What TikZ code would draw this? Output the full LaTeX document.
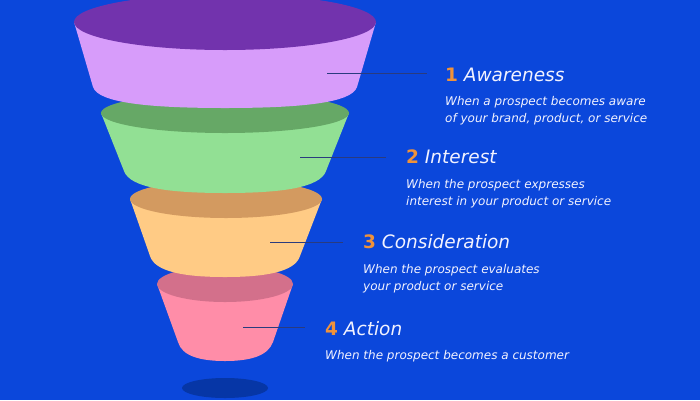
\documentclass[tikz,border=0pt]{standalone}
\usepackage{fontspec}
\setmainfont{DejaVu Sans}
\definecolor{bg}{HTML}{0B47DB}
\definecolor{shadow}{HTML}{0636A6}
\definecolor{capA}{HTML}{7233AD}
\definecolor{bandA}{HTML}{D79CFA}
\definecolor{capB}{HTML}{66A866}
\definecolor{bandB}{HTML}{92E094}
\definecolor{capC}{HTML}{D39A60}
\definecolor{bandC}{HTML}{FFCB85}
\definecolor{capD}{HTML}{D3708B}
\definecolor{bandD}{HTML}{FF8DA8}
\definecolor{lead}{HTML}{2A3B7E}
\definecolor{num}{HTML}{F0923A}
\definecolor{txt}{HTML}{F2F2FF}
\tikzset{
    TT/.style ={anchor=base west, inner sep=0pt, text=txt, font=\fontsize{18.5}{22}\selectfont\itshape},
    DD/.style ={anchor=base west, inner sep=0pt, text=txt, align=left, font=\fontsize{12}{17}\selectfont\itshape},
    LL/.style ={draw=lead, line width=1pt}
}
\newcommand{\stagenum}[1]{{\upshape\bfseries\color{num}#1}}
\begin{document}
\begin{tikzpicture}[x=1pt,y=-1pt]
    \fill[bg] (0,0) rectangle (700,400);
    \useasboundingbox (0,0) rectangle (700,400);
    % shadow
    \fill[shadow] (225,388) ellipse (43 and 10);
    % stage 4
    \fill[bandD] (157,284) -- (178,342) .. controls (182,356) and (200,361) .. (225,361)
        .. controls (250,361) and (268,356) .. (273,342) -- (293,284) -- cycle;
    \fill[capD] (225,284) ellipse (68 and 18);
    % stage 3
    \fill[bandC] (130,199) -- (150,256) .. controls (155,272) and (185,277) .. (225,277)
        .. controls (265,277) and (295,272) .. (300,256) -- (322,199) -- cycle;
    \fill[capC] (226,199) ellipse (96 and 19);
    % stage 2
    \fill[bandB] (101,113) -- (124,171) .. controls (130,188) and (170,193) .. (225,193)
        .. controls (280,193) and (320,188) .. (326,171) -- (349,113) -- cycle;
    \fill[capB] (225,113) ellipse (124 and 20);
    % stage 1
    \fill[bandA] (74,22) -- (93,87) .. controls (98,103) and (150,108) .. (225,108)
        .. controls (300,108) and (352,103) .. (357,87) -- (376,22) -- cycle;
    \fill[capA] (225,22) ellipse (151 and 28);

    % labels (two-line texts sit on their last baseline)
    \node[TT] (t1) at (445,81) {\stagenum{1} Awareness};
    \node[DD] (d1) at (445,122) {When a prospect becomes aware\\of your brand, product, or service};
    \node[TT] (t2) at (406,163) {\stagenum{2} Interest};
    \node[DD] (d2) at (406,205) {When the prospect expresses\\interest in your product or service};
    \node[TT] (t3) at (363,248) {\stagenum{3} Consideration};
    \node[DD] (d3) at (363,290) {When the prospect evaluates\\your product or service};
    \node[TT] (t4) at (325,335) {\stagenum{4} Action};
    \node[DD] (d4) at (325,359) {When the prospect becomes a customer};

    % leader lines
    \coordinate (p1) at (327,73);
    \coordinate (q1) at (427,73);
    \coordinate (p2) at (300,157);
    \coordinate (q2) at (386,157);
    \coordinate (p3) at (270,242);
    \coordinate (q3) at (343,242);
    \coordinate (p4) at (243,327);
    \coordinate (q4) at (305,327);
    \draw[LL] (p1) -- (q1);
    \draw[LL] (p2) -- (q2);
    \draw[LL] (p3) -- (q3);
    \draw[LL] (p4) -- (q4);
\end{tikzpicture}
\end{document}
